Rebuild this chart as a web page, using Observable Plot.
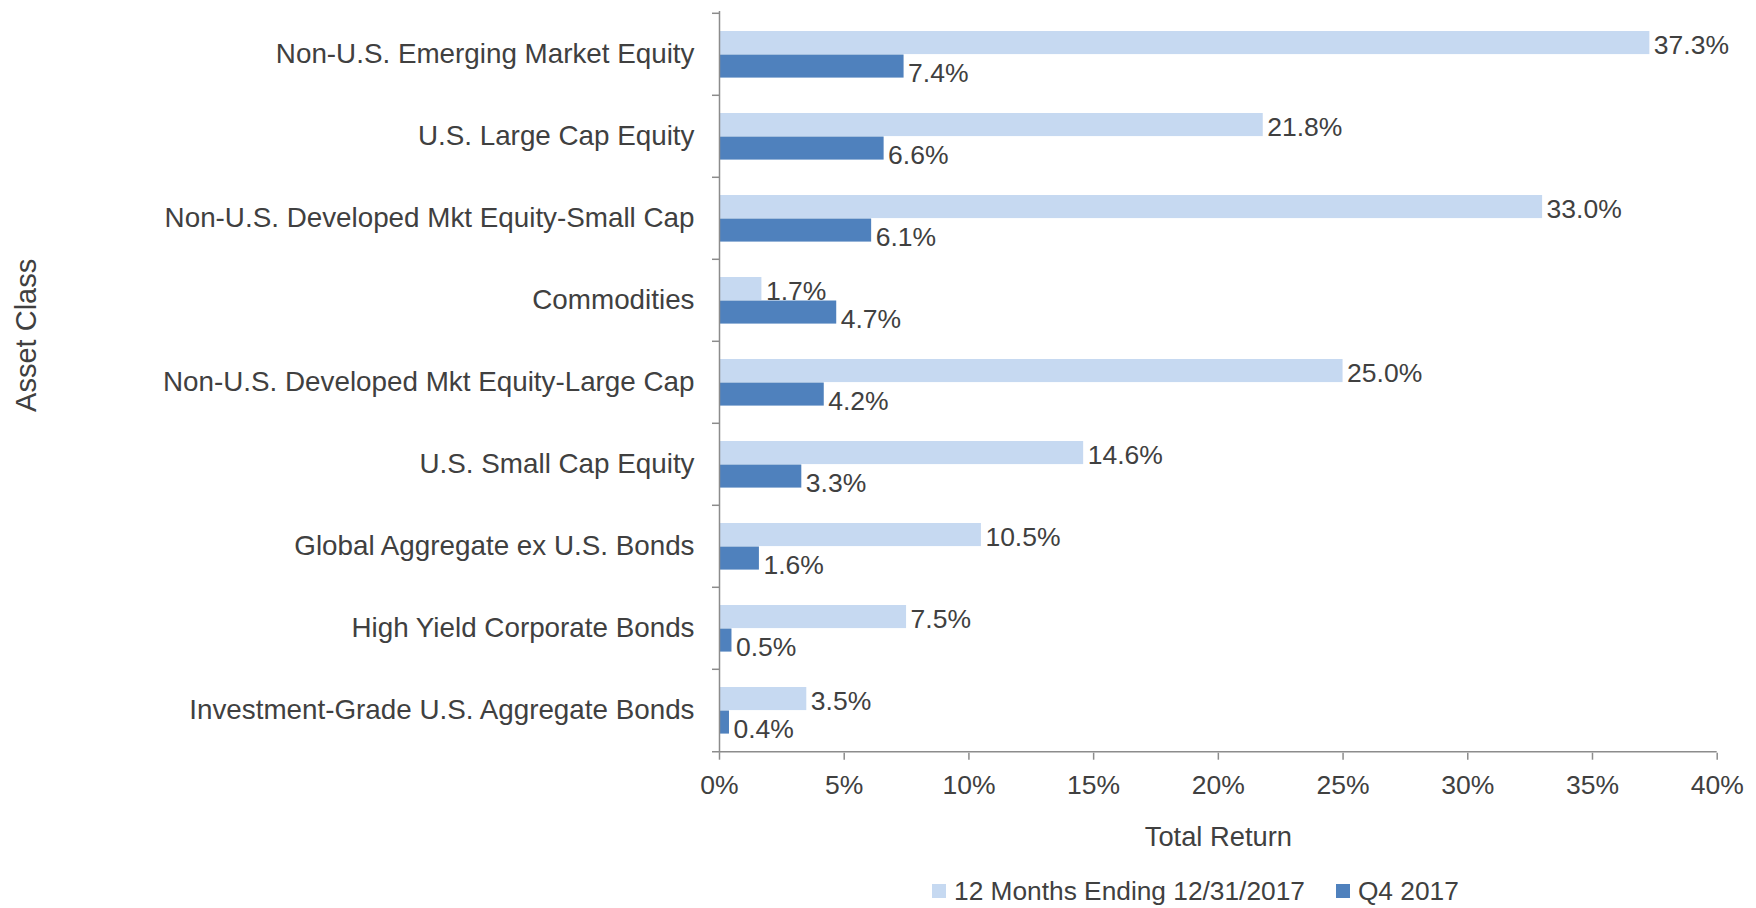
<!DOCTYPE html>
<html>
<head>
<meta charset="utf-8">
<script src="https://cdn.jsdelivr.net/npm/d3@7"></script>
<script src="https://cdn.jsdelivr.net/npm/@observablehq/plot@0.6"></script>
<style>
  html, body { margin: 0; padding: 0; background: #fff; }
  #wrap { position: relative; width: 1756px; height: 908px; font-family: "Liberation Sans", Arial, sans-serif; color: #404040; }
  #legend { position: absolute; top: 874px; left: 932px; height: 34px; display: flex; align-items: center; font-size: 26.3px; white-space: nowrap; }
  .sw { display: inline-block; width: 14px; height: 14px; margin-right: 8px; }
  .item { display: flex; align-items: center; margin-right: 10px; }
</style>
</head>
<body>
<div id="wrap">
  <div id="chart"></div>
  <div id="legend"></div>
</div>
<script>
const categories = [
  "Non-U.S. Emerging Market Equity",
  "U.S. Large Cap Equity",
  "Non-U.S. Developed Mkt Equity-Small Cap",
  "Commodities",
  "Non-U.S. Developed Mkt Equity-Large Cap",
  "U.S. Small Cap Equity",
  "Global Aggregate ex U.S. Bonds",
  "High Yield Corporate Bonds",
  "Investment-Grade U.S. Aggregate Bonds"
];
const seriesNames = ["12 Months Ending 12/31/2017", "Q4 2017"];
const twelveMonths = [37.3, 21.8, 33.0, 1.7, 25.0, 14.6, 10.5, 7.5, 3.5];
const q4 = [7.4, 6.6, 6.1, 4.7, 4.2, 3.3, 1.6, 0.5, 0.4];
const xTicks = [0, 5, 10, 15, 20, 25, 30, 35, 40];
const xLabel = "Total Return";
const yLabel = "Asset Class";

const colors = ["#c6d9f1", "#4f81bd"];
const axisGray = "#8c8c8c";
const textGray = "#404040";

const W = 1756, H = 868;
const mTop = 11, mBottom = H - 752.7, mLeft = 719, mRight = W - 1716.7;
const step = (H - mTop - mBottom) / categories.length;
const barH = 23.5;
const gapTop = 18;

const light = categories.map((c, i) => ({category: c, value: twelveMonths[i]}));
const dark = categories.map((c, i) => ({category: c, value: q4[i]}));

const lightInsetTop = gapTop, lightInsetBottom = step - gapTop - barH;
const darkInsetTop = gapTop + barH, darkInsetBottom = step - gapTop - 2 * barH;
const lightCenter = gapTop + barH / 2 - step / 2;
const darkCenter = gapTop + 1.5 * barH - step / 2;

const fmt = v => v.toFixed(1) + "%";

const plot = Plot.plot({
  width: W,
  height: H,
  marginTop: mTop,
  marginBottom: mBottom,
  marginLeft: mLeft,
  marginRight: mRight,
  style: {fontFamily: "'Liberation Sans', Arial, sans-serif", fontSize: "26.5px", color: textGray, background: "#fff"},
  x: {domain: [0, 40], ticks: xTicks, tickFormat: d => d + "%"},
  y: {domain: categories, padding: 0},
  marks: [
    Plot.barX(light, {y: "category", x: "value", fill: colors[0], insetTop: lightInsetTop, insetBottom: lightInsetBottom}),
    Plot.text(light, {y: "category", x: "value", text: d => fmt(d.value), textAnchor: "start", dx: 4, dy: lightCenter + 2.3, fill: textGray}),
    Plot.barX(dark, {y: "category", x: "value", fill: colors[1], insetTop: darkInsetTop, insetBottom: darkInsetBottom}),
    Plot.text(dark, {y: "category", x: "value", text: d => fmt(d.value), textAnchor: "start", dx: 4, dy: darkCenter + 6.5, fill: textGray}),
    Plot.ruleX([0], {stroke: axisGray, strokeWidth: 1.5}),
    Plot.ruleY(categories, {y: d => d, x1: 0, x2: 0, insetLeft: -7, dy: -step / 2, stroke: axisGray, strokeWidth: 1.5}),
    Plot.ruleY(categories.slice(-1), {y: d => d, x1: 0, x2: 40, insetLeft: -7, dy: step / 2, stroke: axisGray, strokeWidth: 1.5}),
    Plot.axisX({ticks: xTicks, tickFormat: d => d + "%", tickSize: 7, tickPadding: 15, stroke: axisGray, strokeWidth: 1.5, fill: textGray, label: null}),
    Plot.axisY({tickSize: 0, tickPadding: 25, fill: textGray, fontSize: 27.8, label: null}),
    Plot.text([xLabel], {frameAnchor: "bottom", lineAnchor: "middle", dy: 84, fill: textGray, fontSize: 27.3}),
    Plot.text([yLabel], {frameAnchor: "left", textAnchor: "middle", lineAnchor: "middle", rotate: -90, dx: -693, dy: -47, fill: textGray, fontSize: 29})
  ]
});
document.getElementById("chart").appendChild(plot);

const legend = document.getElementById("legend");
seriesNames.forEach((name, i) => {
  const item = document.createElement("div");
  item.className = "item";
  if (i > 0) item.style.marginLeft = "21px";
  const sw = document.createElement("span");
  sw.className = "sw";
  sw.style.background = colors[i];
  const t = document.createElement("span");
  t.textContent = name;
  item.appendChild(sw);
  item.appendChild(t);
  legend.appendChild(item);
});
</script>
</body>
</html>
